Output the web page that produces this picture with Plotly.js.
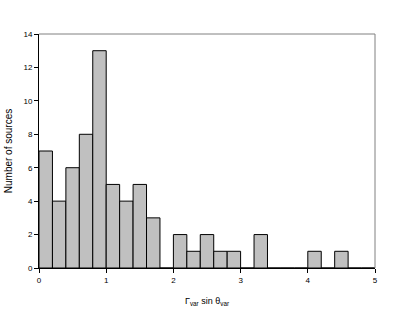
<!DOCTYPE html>
<html><head><meta charset="utf-8">
<script src="https://cdn.plot.ly/plotly-3.0.1.min.js"></script>
<style>html,body{margin:0;padding:0;background:#fff}#c{width:393px;height:314px}</style>
</head><body><div id="c"></div>
<script>
const binCenters = [0.1,0.3,0.5,0.7,0.9,1.1,1.3,1.5,1.7,1.9,2.1,2.3,2.5,2.7,2.9,3.1,3.3,3.5,3.7,3.9,4.1,4.3,4.5,4.7,4.9];
const counts     = [7,4,6,8,13,5,4,5,3,0,2,1,2,1,1,0,2,0,0,0,1,0,1,0,0];
const xTicks = [0,1,2,3,4,5];
const yTicks = [0,2,4,6,8,10,12,14];

Plotly.newPlot('c', [{
  type:'bar', x:binCenters, y:counts, width:0.2,
  marker:{color:'#c0c0c0', line:{color:'#000', width:1}},
  hoverinfo:'none'
}], {
  width:393, height:314,
  margin:{l:39, r:18, t:34, b:46},
  paper_bgcolor:'#fff', plot_bgcolor:'#fff',
  font:{family:'Liberation Sans, Arial, sans-serif', color:'#000'},
  showlegend:false,
  xaxis:{range:[0,5], tickvals:xTicks, ticks:'outside', ticklen:4, tickcolor:'#000',
    showgrid:false, zeroline:false, showline:true, linecolor:'#000', linewidth:1,
    mirror:false, tickfont:{size:8},
    title:{text:'Γ<sub>var</sub> sin θ<sub>var</sub>', font:{size:9}, standoff:14}},
  yaxis:{range:[0,14], tickvals:yTicks, ticks:'outside', ticklen:4, tickcolor:'#000',
    showgrid:false, zeroline:false, showline:true, linecolor:'#000', linewidth:1,
    tickfont:{size:8},
    title:{text:'Number of sources', font:{size:10}, standoff:8}},
  shapes:[
    {type:'line', xref:'paper', yref:'paper', x0:0, x1:1, y0:1, y1:1, line:{color:'#808080', width:1}},
    {type:'line', xref:'paper', yref:'paper', x0:1, x1:1, y0:0, y1:1, line:{color:'#808080', width:1}}
  ]
}, {staticPlot:true});
</script></body></html>
